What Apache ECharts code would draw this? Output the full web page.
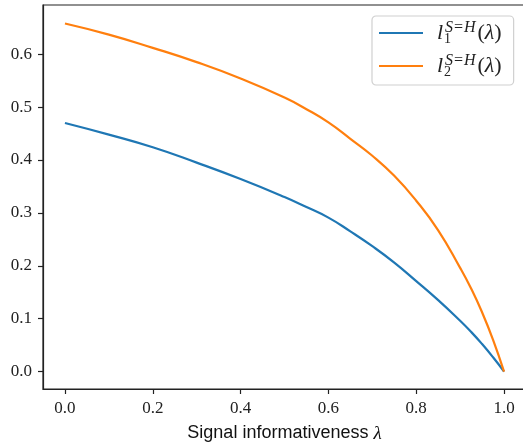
<!DOCTYPE html>
<html>
<head>
<meta charset="utf-8">
<script src="https://cdn.jsdelivr.net/npm/echarts@6/dist/echarts.min.js"></script>
<style>html,body{margin:0;padding:0;background:#fff}#c{width:523px;height:444px}</style>
</head>
<body>
<div id="c"></div>
<script>
var lambdaVals = [0, 0.1, 0.2, 0.3, 0.4, 0.5, 0.55, 0.6, 0.65, 0.7, 0.75, 0.8, 0.85, 0.9, 0.925, 0.95, 0.975, 1.0];
var l1Vals = [0.470, 0.448, 0.424, 0.395, 0.364, 0.330, 0.311, 0.291, 0.265, 0.237, 0.206, 0.171, 0.135, 0.096, 0.075, 0.052, 0.027, 0.0];
var l2Vals = [0.658, 0.637, 0.612, 0.585, 0.554, 0.518, 0.496, 0.471, 0.440, 0.408, 0.370, 0.323, 0.267, 0.196, 0.157, 0.112, 0.060, 0.0];
var xTicks = [0, 0.2, 0.4, 0.6, 0.8, 1.0];
var yTicks = [0, 0.1, 0.2, 0.3, 0.4, 0.5, 0.6];
var seriesNames = ['l1', 'l2'];
var subs = {l1: '1', l2: '2'};

function pairs(xs, ys) { return xs.map(function (x, i) { return [x, ys[i]]; }); }

var serif = 'Liberation Serif';
var axisColor = '#222';
var chart = echarts.init(document.getElementById('c'), null, {renderer: 'canvas'});
chart.setOption({
  animation: false,
  backgroundColor: '#fff',
  grid: {left: 43, top: 5, right: -3, bottom: 55, outerBoundsMode: 'none', containLabel: false,
    show: true, borderColor: axisColor, borderWidth: 1.2, backgroundColor: 'transparent'},
  xAxis: {
    type: 'value', min: -0.05, max: 1.05,
    axisLine: {show: true, onZero: false, lineStyle: {color: axisColor, width: 1.2}},
    axisTick: {show: true, length: 5, inside: false, customValues: xTicks, lineStyle: {color: axisColor, width: 1.2}},
    axisLabel: {customValues: xTicks, margin: 11, fontFamily: serif, fontSize: 17, color: axisColor,
      formatter: function (v) { return v.toFixed(1); }},
    splitLine: {show: false},
    name: '{s|Signal informativeness }{l|λ}',
    nameLocation: 'middle', nameGap: 35,
    nameTextStyle: {rich: {
      s: {fontFamily: 'Liberation Sans', fontSize: 18, color: '#111'},
      l: {fontFamily: serif, fontStyle: 'italic', fontSize: 19, color: '#111'}
    }}
  },
  yAxis: {
    type: 'value', min: -0.033, max: 0.693,
    axisLine: {show: true, onZero: false, lineStyle: {color: axisColor, width: 1.2}},
    axisTick: {show: true, length: 5, inside: false, customValues: yTicks, lineStyle: {color: axisColor, width: 1.2}},
    axisLabel: {customValues: yTicks, margin: 11, fontFamily: serif, fontSize: 17, color: axisColor,
      formatter: function (v) { return v.toFixed(1); }},
    splitLine: {show: false}
  },
  legend: {
    orient: 'vertical', left: 372, top: 16,
    data: seriesNames,
    icon: 'rect', itemWidth: 44, itemHeight: 2,
    itemGap: 7,
    padding: [4, 12, 6, 7],
    backgroundColor: '#fff',
    borderColor: '#d0d0d0', borderWidth: 1.2, borderRadius: 4,
    formatter: function (name) {
      return '{i|l}{sub|' + subs[name] + '}{sup|S=H}{p|(}{lam|λ}{p|)}';
    },
    textStyle: {
      color: '#222',
      rich: {
        i: {fontFamily: serif, fontStyle: 'italic', fontSize: 22, padding: [0, 1, 0, 9], lineHeight: 26},
        sub: {fontFamily: serif, fontSize: 14, width: 1, verticalAlign: 'bottom', lineHeight: 13},
        sup: {fontFamily: serif, fontStyle: 'italic', fontSize: 16, verticalAlign: 'top', lineHeight: 13, padding: [0, 2, 0, 0]},
        p: {fontFamily: serif, fontSize: 22, lineHeight: 26},
        lam: {fontFamily: serif, fontStyle: 'italic', fontSize: 22, lineHeight: 26}
      }
    }
  },
  series: [
    {name: 'l1', type: 'line', data: pairs(lambdaVals, l1Vals), smooth: 0.5, showSymbol: false,
      lineStyle: {color: '#1f77b4', width: 2.2}, itemStyle: {color: '#1f77b4'}},
    {name: 'l2', type: 'line', data: pairs(lambdaVals, l2Vals), smooth: 0.5, showSymbol: false,
      lineStyle: {color: '#ff7f0e', width: 2.2}, itemStyle: {color: '#ff7f0e'}}
  ]
});
</script>
</body>
</html>
